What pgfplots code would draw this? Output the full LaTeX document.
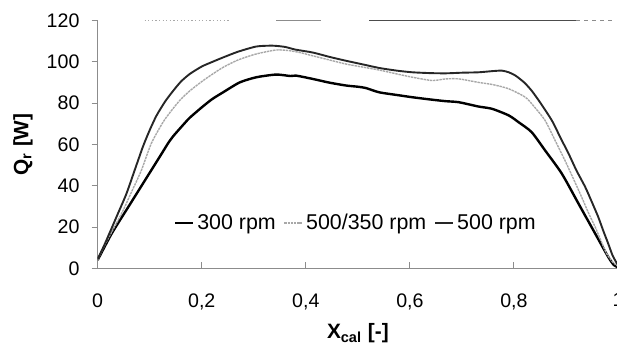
\documentclass[border=0pt]{standalone}
\usepackage{fontspec}
\setmainfont{Liberation Sans}
\usepackage{pgfplots}
\pgfplotsset{compat=1.18}
\definecolor{axgray}{HTML}{8C8C8C}
\definecolor{lgray}{HTML}{A8A8A8}
\begin{document}
\begin{tikzpicture}
\begin{axis}[
  at={(0,0)}, anchor=south west,
  scale only axis, width=260.15pt, height=123.8pt,
  xmin=0, xmax=1, ymin=0, ymax=120,
  axis x line*=bottom, axis y line*=left,
  axis line style={-, draw=axgray, line width=0.5pt},
  xtick={0,0.2,0.4,0.6,0.8,1}, ytick={0,20,...,120},
  minor tick num=0,
  tick align=inside, major tick length=3pt,
  tick style={draw=axgray, line width=0.5pt},
  major y tick style={xshift=-3pt},
  /pgf/number format/assume math mode=true,
  /pgf/number format/use comma,
  /pgf/number format/fixed,
  ticklabel style={font=\fontsize{9.8}{11}\selectfont},
  xticklabel style={yshift=-9pt},
  yticklabel style={xshift=-5.6pt},
  xlabel={\textbf{X\textsubscript{cal} [-]}},
  ylabel={\textbf{Q\textsubscript{r} [W]}},
  label style={font=\fontsize{10.4}{12}\selectfont},
  xlabel style={at={(axis description cs:0.5,-0.2625)}, anchor=center},
  ylabel style={at={(axis description cs:-0.1436,0.5)}, anchor=center},
  legend columns=3,
  legend style={draw=none, fill=none, at={(axis cs:0.497,21.9)}, anchor=center,
    font=\fontsize{10.7}{12}\selectfont, inner sep=0pt,
    nodes={inner xsep=1.5pt, inner ysep=1pt},
    /tikz/every even column/.append style={column sep=2.5pt}},
  legend image code/.code={\draw[#1] (0pt,0pt) -- (9pt,0pt);},
  line join=round,
]
\addplot[black, line width=1.2pt, smooth, tension=0.4] coordinates {
(0,4) (0.027,16.9) (0.059,29.8) (0.091,42.7) (0.123,55.6) (0.135,60.5) (0.145,64)
(0.167,70.3) (0.177,73) (0.20,78) (0.22,82) (0.241,85.3) (0.273,90.1) (0.305,92.6)
(0.343,93.9) (0.37,93.2) (0.381,93.4) (0.413,91.8) (0.445,90) (0.477,88.6) (0.50,88)
(0.515,87.4) (0.541,85.3) (0.575,84) (0.605,82.9) (0.64,81.8) (0.669,81) (0.694,80.5)
(0.732,78.4) (0.758,77.3) (0.79,74.1) (0.809,70.8) (0.834,66) (0.86,57.1) (0.892,45.9)
(0.924,31.4) (0.956,16.9) (0.981,5.6) (0.992,1.6) (1.0,0.5)
};
\addlegendentry{300 rpm}
\addplot[lgray, line width=0.7pt, dash pattern=on 1.2pt off 0.4pt, smooth, tension=0.4] coordinates {
(0,4) (0.015,12) (0.046,26.6) (0.065,37) (0.084,47.5) (0.103,60.5) (0.126,71) (0.145,77.5)
(0.16,82) (0.177,86) (0.20,90.5) (0.22,94) (0.241,97.4) (0.27,101) (0.305,103.9)
(0.343,105.8) (0.368,105.5) (0.39,104.5) (0.413,103) (0.445,101) (0.477,99) (0.51,97.5)
(0.541,96.1) (0.575,94.2) (0.605,92.6) (0.643,91) (0.669,91.8) (0.694,91.8) (0.732,90.1)
(0.76,89) (0.79,87) (0.822,82.9) (0.84,78) (0.86,71.6) (0.881,61) (0.898,52.3) (0.915,43)
(0.93,34.6) (0.943,27) (0.956,20.1) (0.967,13.5) (0.978,7.2) (0.99,3) (1.0,1)
};
\addlegendentry{500/350 rpm}
\addplot[black!85, line width=0.95pt, smooth, tension=0.4] coordinates {
(0,4.5) (0.014,12) (0.039,26.6) (0.055,36) (0.071,47.5) (0.087,59) (0.10,67) (0.113,74)
(0.13,81) (0.145,86) (0.16,90.5) (0.177,94.2) (0.20,97.8) (0.22,100) (0.241,102.2)
(0.27,105) (0.305,107.5) (0.336,107.9) (0.36,107.3) (0.38,106) (0.413,104.6) (0.445,102.5)
(0.477,100.6) (0.51,98.8) (0.541,97.1) (0.575,95.8) (0.605,95) (0.64,94.6) (0.669,94.5)
(0.70,94.8) (0.732,95) (0.76,95.6) (0.777,95.8) (0.79,95) (0.803,93.4) (0.82,90)
(0.834,86.1) (0.85,80.5) (0.873,71.6) (0.89,63) (0.905,55.6) (0.92,47.5) (0.937,39.4)
(0.95,32) (0.962,24.9) (0.972,18) (0.981,12.1) (0.99,6) (1.0,1.5)
};
\addlegendentry{500 rpm}
\draw[lgray, line width=0.5pt, dash pattern=on 0.6pt off 1.2pt] (axis cs:0.09,120) -- (axis cs:0.255,120);
\draw[axgray, line width=0.5pt] (axis cs:0.343,120) -- (axis cs:0.43,120);
\draw[black!70, line width=0.5pt] (axis cs:0.522,120) -- (axis cs:0.92,120);
\draw[axgray, line width=0.5pt, dash pattern=on 2pt off 2pt] (axis cs:0.92,120) -- (axis cs:0.99,120);
\end{axis}
\pgfresetboundingbox
\useasboundingbox (-48.85pt,-38.35pt) rectangle (259.65pt,134.15pt);
\end{tikzpicture}
\end{document}
